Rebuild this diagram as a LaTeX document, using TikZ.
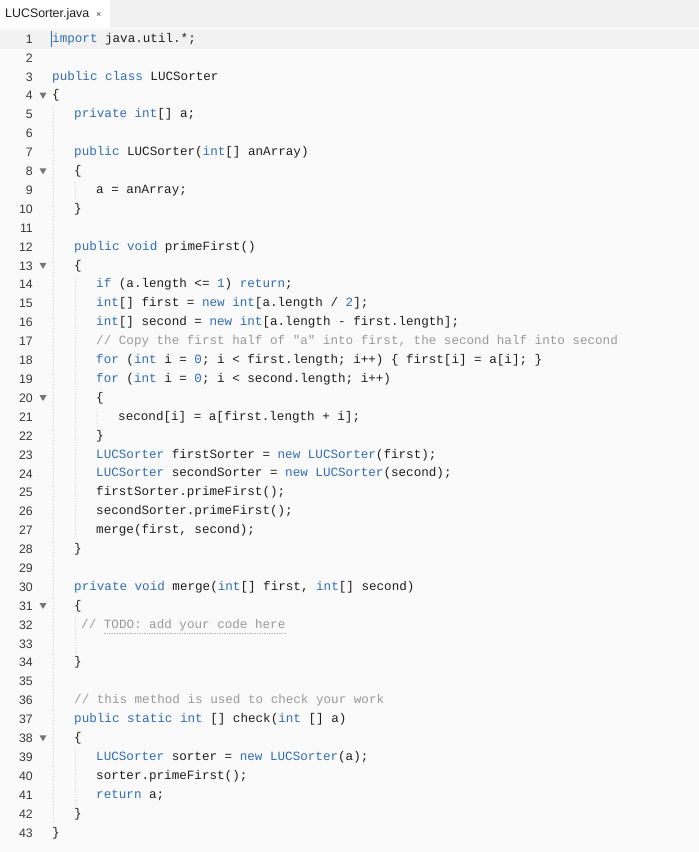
\documentclass[tikz,border=0pt]{standalone}
\usepackage{fontspec}
\setmonofont{Liberation Mono}
\setsansfont{Liberation Sans}
\definecolor{kw}{HTML}{2F6DB8}
\definecolor{txt}{HTML}{1E1E1E}
\definecolor{cm}{HTML}{999999}
\definecolor{ln}{HTML}{3A3A3A}
\definecolor{guide}{HTML}{D0D0D0}
\newcommand{\K}[1]{\textcolor{kw}{#1}}
\newcommand{\C}[1]{\textcolor{cm}{#1}}
\newcommand{\codeline}[3]{%
  \node[lnum] (n#1) at (33,{39+(#1-1)*18.9}) {#1};
  \ifx\relax#3\relax\else\node[code] (c#1) at (#2,{39+(#1-1)*18.9}) {#3};\fi}
\newcommand{\foldmark}[1]{\fill[ln!70] (39.5,{39+(#1-1)*18.9-3}) -- (46.5,{39+(#1-1)*18.9-3}) -- (43,{39+(#1-1)*18.9+3}) -- cycle;}
\newcommand{\guide}[3]{\draw[guide,dotted,line width=0.8pt] (#1,{39+(#2-1)*18.9-8}) -- (#1,{39+(#3-1)*18.9+9});}
\begin{document}
\begin{tikzpicture}[x=1pt,y=-1pt,
  lnum/.style={anchor=east,inner sep=0pt,font=\sffamily\fontsize{12.3}{14}\selectfont,text=ln},
  code/.style={anchor=west,inner sep=0pt,font=\ttfamily\fontsize{12.6}{14}\selectfont,text=txt}]
\useasboundingbox (0,0) rectangle (699,852);
\fill[white!98!black] (0,27) rectangle (699,852);
\fill[black!6] (0,0) rectangle (699,27);
\fill[white] (0,0) rectangle (110,27);
\node[anchor=west,inner sep=0pt,font=\sffamily\fontsize{12.4}{14}\selectfont,text=txt] (tab) at (5,14) {LUCSorter.java\ \ \textcolor{ln}{\fontsize{9}{10}\selectfont ×}};
\fill[black!5] (0,30) rectangle (699,48.5);
\draw[kw,line width=1pt] (51,31) -- (51,47);
\guide{53}{5}{42}
\guide{75}{9}{9}
\guide{75}{14}{27}
\guide{97}{21}{21}
\guide{75}{32}{33}
\guide{75}{39}{41}
\foreach \f in {4,8,13,20,31,38} {\foldmark{\f}}
\codeline{1}{52}{\K{import} java.util.*;}
\codeline{2}{52}{}
\codeline{3}{52}{\K{public class} LUCSorter}
\codeline{4}{52}{\{}
\codeline{5}{74}{\K{private int}[] a;}
\codeline{6}{52}{}
\codeline{7}{74}{\K{public} LUCSorter(\K{int}[] anArray)}
\codeline{8}{74}{\{}
\codeline{9}{96}{a = anArray;}
\codeline{10}{74}{\}}
\codeline{11}{52}{}
\codeline{12}{74}{\K{public void} primeFirst()}
\codeline{13}{74}{\{}
\codeline{14}{96}{\K{if} (a.length <= \K{1}) \K{return};}
\codeline{15}{96}{\K{int}[] first = \K{new int}[a.length / \K{2}];}
\codeline{16}{96}{\K{int}[] second = \K{new int}[a.length - first.length];}
\codeline{17}{96}{\C{// Copy the first half of "a" into first, the second half into second}}
\codeline{18}{96}{\K{for} (\K{int} i = \K{0}; i < first.length; i++) \{ first[i] = a[i]; \}}
\codeline{19}{96}{\K{for} (\K{int} i = \K{0}; i < second.length; i++)}
\codeline{20}{96}{\{}
\codeline{21}{118}{second[i] = a[first.length + i];}
\codeline{22}{96}{\}}
\codeline{23}{96}{\K{LUCSorter} firstSorter = \K{new LUCSorter}(first);}
\codeline{24}{96}{\K{LUCSorter} secondSorter = \K{new LUCSorter}(second);}
\codeline{25}{96}{firstSorter.primeFirst();}
\codeline{26}{96}{secondSorter.primeFirst();}
\codeline{27}{96}{merge(first, second);}
\codeline{28}{74}{\}}
\codeline{29}{52}{}
\codeline{30}{74}{\K{private void} merge(\K{int}[] first, \K{int}[] second)}
\codeline{31}{74}{\{}
\codeline{32}{81}{\C{// TODO: add your code here}}
\codeline{33}{52}{}
\codeline{34}{74}{\}}
\codeline{35}{52}{}
\codeline{36}{74}{\C{// this method is used to check your work}}
\codeline{37}{74}{\K{public static int} [] check(\K{int} [] a)}
\codeline{38}{74}{\{}
\codeline{39}{96}{\K{LUCSorter} sorter = \K{new LUCSorter}(a);}
\codeline{40}{96}{sorter.primeFirst();}
\codeline{41}{96}{\K{return} a;}
\codeline{42}{74}{\}}
\codeline{43}{52}{\}}
\draw[cm!70,dash pattern=on 1.5pt off 1pt] (104,{39+31*18.9+8}) -- (286,{39+31*18.9+8});
\end{tikzpicture}
\end{document}
